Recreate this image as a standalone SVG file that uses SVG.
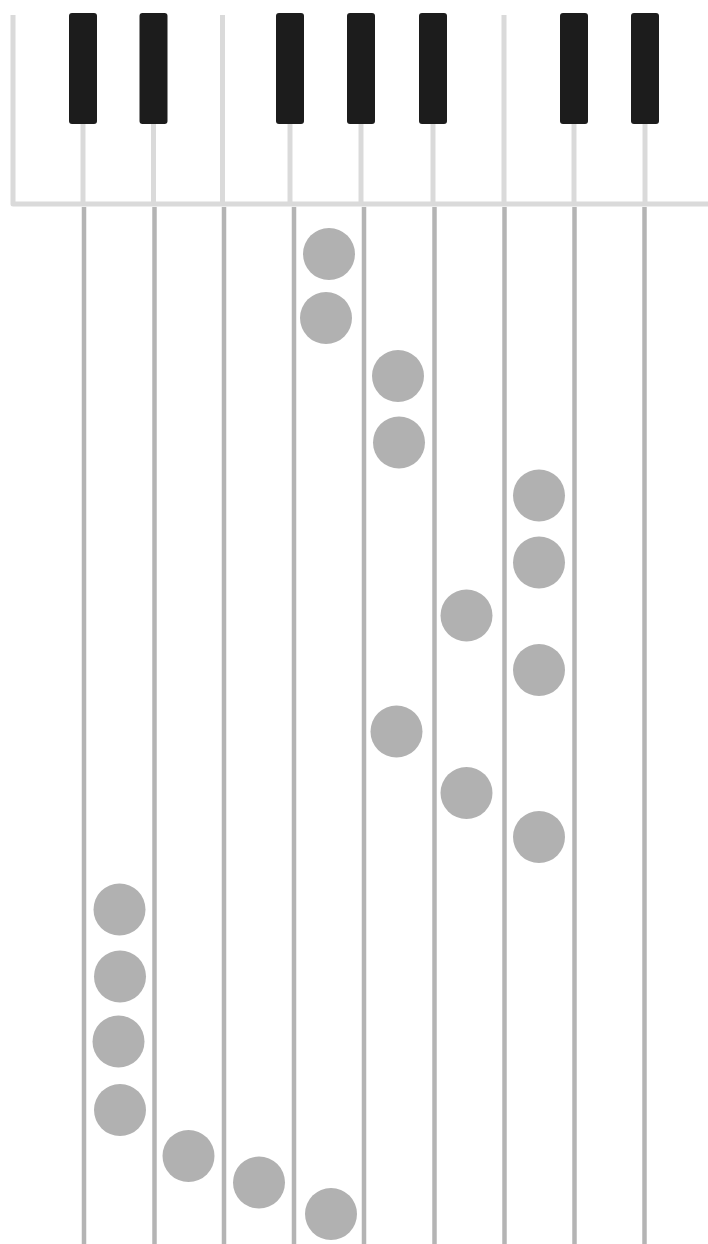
<svg xmlns="http://www.w3.org/2000/svg" width="708" height="1244" viewBox="0 0 708 1244">
<style>
.frame{stroke:#dadada;stroke-width:5;fill:none;stroke-linecap:butt;stroke-linejoin:round}
.string{stroke:#b4b4b4;stroke-width:4.5;fill:none}
.black{fill:#1c1c1c}
.dot{fill:#b1b1b1}
</style>
<rect width="708" height="1244" fill="#ffffff"/>
<g id="keyboard">
<path class="frame" d="M13,15 V204 H708"/>
<line class="frame" x1="222.5" y1="15" x2="222.5" y2="204"/>
<line class="frame" x1="504" y1="15" x2="504" y2="204"/>
<line class="frame" x1="83" y1="120" x2="83" y2="204"/>
<line class="frame" x1="153.5" y1="120" x2="153.5" y2="204"/>
<line class="frame" x1="290" y1="120" x2="290" y2="204"/>
<line class="frame" x1="361" y1="120" x2="361" y2="204"/>
<line class="frame" x1="433" y1="120" x2="433" y2="204"/>
<line class="frame" x1="574" y1="120" x2="574" y2="204"/>
<line class="frame" x1="645" y1="120" x2="645" y2="204"/>
<rect class="black" x="69" y="13" width="28" height="111" rx="3"/>
<rect class="black" x="139.5" y="13" width="28" height="111" rx="3"/>
<rect class="black" x="276" y="13" width="28" height="111" rx="3"/>
<rect class="black" x="347" y="13" width="28" height="111" rx="3"/>
<rect class="black" x="419" y="13" width="28" height="111" rx="3"/>
<rect class="black" x="560" y="13" width="28" height="111" rx="3"/>
<rect class="black" x="631" y="13" width="28" height="111" rx="3"/>
</g>
<g id="strings">
<line class="string" x1="84" y1="207" x2="84" y2="1244"/>
<line class="string" x1="154.5" y1="207" x2="154.5" y2="1244"/>
<line class="string" x1="224" y1="207" x2="224" y2="1244"/>
<line class="string" x1="294" y1="207" x2="294" y2="1244"/>
<line class="string" x1="364" y1="207" x2="364" y2="1244"/>
<line class="string" x1="434.5" y1="207" x2="434.5" y2="1244"/>
<line class="string" x1="504.5" y1="207" x2="504.5" y2="1244"/>
<line class="string" x1="574.5" y1="207" x2="574.5" y2="1244"/>
<line class="string" x1="644.5" y1="207" x2="644.5" y2="1244"/>
</g>
<g id="notes">
<circle class="dot" cx="329" cy="254" r="26"/>
<circle class="dot" cx="326" cy="318" r="26"/>
<circle class="dot" cx="398" cy="376" r="26"/>
<circle class="dot" cx="399" cy="442.5" r="26"/>
<circle class="dot" cx="539" cy="495.5" r="26"/>
<circle class="dot" cx="539" cy="562.5" r="26"/>
<circle class="dot" cx="466.5" cy="615.5" r="26"/>
<circle class="dot" cx="539" cy="670" r="26"/>
<circle class="dot" cx="396.5" cy="731.5" r="26"/>
<circle class="dot" cx="466.5" cy="793" r="26"/>
<circle class="dot" cx="539" cy="837" r="26"/>
<circle class="dot" cx="119.5" cy="909.5" r="26"/>
<circle class="dot" cx="120" cy="976.5" r="26"/>
<circle class="dot" cx="118.5" cy="1041.5" r="26"/>
<circle class="dot" cx="120" cy="1110" r="26"/>
<circle class="dot" cx="188.5" cy="1156" r="26"/>
<circle class="dot" cx="259" cy="1182.5" r="26"/>
<circle class="dot" cx="331" cy="1214" r="26"/>
</g>
</svg>
